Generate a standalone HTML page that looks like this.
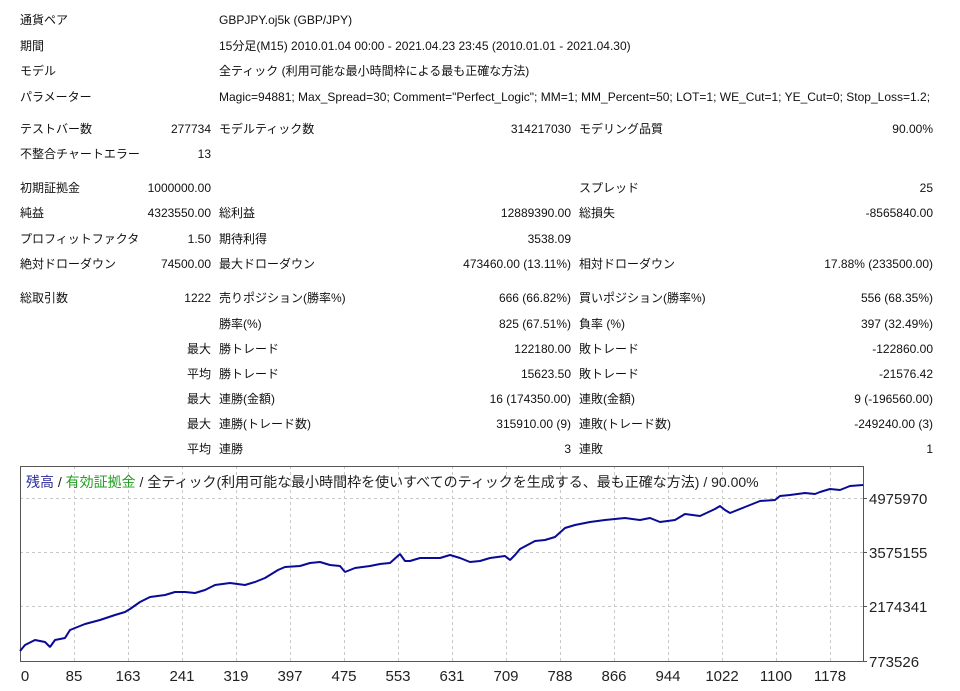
<!DOCTYPE html>
<html><head><meta charset="utf-8"><style>
body{margin:0;width:960px;height:691px;background:#fff;position:relative;overflow:hidden;font-family:"Liberation Sans","Noto Sans CJK JP",sans-serif;font-size:12px;color:#111}
.t{position:absolute;white-space:nowrap;line-height:16px}
</style></head><body>
<div class="t" style="left:20px;top:12px">通貨ペア</div><div class="t" style="left:219px;top:12px">GBPJPY.oj5k (GBP/JPY)</div>
<div class="t" style="left:20px;top:38px">期間</div><div class="t" style="left:219px;top:38px">15分足(M15) 2010.01.04 00:00 - 2021.04.23 23:45 (2010.01.01 - 2021.04.30)</div>
<div class="t" style="left:20px;top:63px">モデル</div><div class="t" style="left:219px;top:63px">全ティック (利用可能な最小時間枠による最も正確な方法)</div>
<div class="t" style="left:20px;top:89px">パラメーター</div><div class="t" style="left:219px;top:89px">Magic=94881; Max_Spread=30; Comment="Perfect_Logic"; MM=1; MM_Percent=50; LOT=1; WE_Cut=1; YE_Cut=0; Stop_Loss=1.2;</div>

<div class="t" style="left:20px;top:121px">テストバー数</div><div class="t" style="right:749px;top:121px">277734</div><div class="t" style="left:219px;top:121px">モデルティック数</div><div class="t" style="right:389px;top:121px">314217030</div><div class="t" style="left:579px;top:121px">モデリング品質</div><div class="t" style="right:27px;top:121px">90.00%</div>
<div class="t" style="left:20px;top:146px">不整合チャートエラー</div><div class="t" style="right:749px;top:146px">13</div>

<div class="t" style="left:20px;top:180px">初期証拠金</div><div class="t" style="right:749px;top:180px">1000000.00</div><div class="t" style="left:579px;top:180px">スプレッド</div><div class="t" style="right:27px;top:180px">25</div>
<div class="t" style="left:20px;top:205px">純益</div><div class="t" style="right:749px;top:205px">4323550.00</div><div class="t" style="left:219px;top:205px">総利益</div><div class="t" style="right:389px;top:205px">12889390.00</div><div class="t" style="left:579px;top:205px">総損失</div><div class="t" style="right:27px;top:205px">-8565840.00</div>
<div class="t" style="left:20px;top:231px">プロフィットファクタ</div><div class="t" style="right:749px;top:231px">1.50</div><div class="t" style="left:219px;top:231px">期待利得</div><div class="t" style="right:389px;top:231px">3538.09</div>
<div class="t" style="left:20px;top:256px">絶対ドローダウン</div><div class="t" style="right:749px;top:256px">74500.00</div><div class="t" style="left:219px;top:256px">最大ドローダウン</div><div class="t" style="right:389px;top:256px">473460.00 (13.11%)</div><div class="t" style="left:579px;top:256px">相対ドローダウン</div><div class="t" style="right:27px;top:256px">17.88% (233500.00)</div>

<div class="t" style="left:20px;top:290px">総取引数</div><div class="t" style="right:749px;top:290px">1222</div><div class="t" style="left:219px;top:290px">売りポジション(勝率%)</div><div class="t" style="right:389px;top:290px">666 (66.82%)</div><div class="t" style="left:579px;top:290px">買いポジション(勝率%)</div><div class="t" style="right:27px;top:290px">556 (68.35%)</div>
<div class="t" style="left:219px;top:316px">勝率(%)</div><div class="t" style="right:389px;top:316px">825 (67.51%)</div><div class="t" style="left:579px;top:316px">負率 (%)</div><div class="t" style="right:27px;top:316px">397 (32.49%)</div>
<div class="t" style="right:749px;top:341px">最大</div><div class="t" style="left:219px;top:341px">勝トレード</div><div class="t" style="right:389px;top:341px">122180.00</div><div class="t" style="left:579px;top:341px">敗トレード</div><div class="t" style="right:27px;top:341px">-122860.00</div>
<div class="t" style="right:749px;top:366px">平均</div><div class="t" style="left:219px;top:366px">勝トレード</div><div class="t" style="right:389px;top:366px">15623.50</div><div class="t" style="left:579px;top:366px">敗トレード</div><div class="t" style="right:27px;top:366px">-21576.42</div>
<div class="t" style="right:749px;top:391px">最大</div><div class="t" style="left:219px;top:391px">連勝(金額)</div><div class="t" style="right:389px;top:391px">16 (174350.00)</div><div class="t" style="left:579px;top:391px">連敗(金額)</div><div class="t" style="right:27px;top:391px">9 (-196560.00)</div>
<div class="t" style="right:749px;top:416px">最大</div><div class="t" style="left:219px;top:416px">連勝(トレード数)</div><div class="t" style="right:389px;top:416px">315910.00 (9)</div><div class="t" style="left:579px;top:416px">連敗(トレード数)</div><div class="t" style="right:27px;top:416px">-249240.00 (3)</div>
<div class="t" style="right:749px;top:441px">平均</div><div class="t" style="left:219px;top:441px">連勝</div><div class="t" style="right:389px;top:441px">3</div><div class="t" style="left:579px;top:441px">連敗</div><div class="t" style="right:27px;top:441px">1</div>

<svg style="position:absolute;left:0;top:0" width="960" height="691" font-family="Liberation Sans, Noto Sans CJK JP, sans-serif">
<g stroke="#c8c8c8" stroke-dasharray="3,3" stroke-width="1">
<line x1="20" y1="498.5" x2="863" y2="498.5"/><line x1="20" y1="552.5" x2="863" y2="552.5"/><line x1="20" y1="606.5" x2="863" y2="606.5"/>
<line x1="74.5" y1="466" x2="74.5" y2="661"/><line x1="128.5" y1="466" x2="128.5" y2="661"/><line x1="182.5" y1="466" x2="182.5" y2="661"/><line x1="236.5" y1="466" x2="236.5" y2="661"/><line x1="290.5" y1="466" x2="290.5" y2="661"/><line x1="344.5" y1="466" x2="344.5" y2="661"/><line x1="398.5" y1="466" x2="398.5" y2="661"/><line x1="452.5" y1="466" x2="452.5" y2="661"/><line x1="506.5" y1="466" x2="506.5" y2="661"/><line x1="560.5" y1="466" x2="560.5" y2="661"/><line x1="614.5" y1="466" x2="614.5" y2="661"/><line x1="668.5" y1="466" x2="668.5" y2="661"/><line x1="722.5" y1="466" x2="722.5" y2="661"/><line x1="776.5" y1="466" x2="776.5" y2="661"/><line x1="830.5" y1="466" x2="830.5" y2="661"/>
</g>
<rect x="20.5" y="466.5" width="843" height="195" fill="none" stroke="#555" stroke-width="1"/>
<g stroke="#555"><line x1="863" y1="498.5" x2="867" y2="498.5"/><line x1="863" y1="552.5" x2="867" y2="552.5"/><line x1="863" y1="606.5" x2="867" y2="606.5"/><line x1="863" y1="661.5" x2="867" y2="661.5"/></g>
<polyline fill="none" stroke="#0a0a96" stroke-width="2" stroke-linejoin="bevel" points="20,651 25,645 35,640 45,642 50,647 55,640 65,638 70,630 85,624 100,620 115,615 125,612 130,609 140,602 150,597 165,595 175,592 185,592 195,593 205,590 215,585 230,583 245,585 255,582 265,578 278,570 285,567 300,566 310,563 320,562 330,565 340,566 345,572 355,568 370,566 380,564 390,563 400,554 405,561 410,561 420,558 430,558 440,558 450,555 460,558 470,562 480,561 490,558 505,556 510,560 515,555 520,549 535,541 545,540 555,537 565,528 575,525 590,522 605,520 615,519 625,518 640,520 650,518 660,522 675,520 685,514 700,516 715,509 720,506 725,510 730,513 745,507 760,501 775,500 780,496 790,495 805,493 815,494 820,492 830,489 840,490 850,486 863,485"/>
<text x="26" y="487" font-size="14"><tspan fill="#2a2a9a">残高</tspan><tspan fill="#222"> / </tspan><tspan fill="#22a022">有効証拠金</tspan><tspan fill="#222"> / 全ティック(利用可能な最小時間枠を使いすべてのティックを生成する、最も正確な方法) / 90.00%</tspan></text>
<g font-size="15" fill="#222">
<text x="869" y="504">4975970</text><text x="869" y="558">3575155</text><text x="869" y="612">2174341</text><text x="869" y="667">773526</text>
<g text-anchor="middle"><text x="25" y="681">0</text><text x="74" y="681">85</text><text x="128" y="681">163</text><text x="182" y="681">241</text><text x="236" y="681">319</text><text x="290" y="681">397</text><text x="344" y="681">475</text><text x="398" y="681">553</text><text x="452" y="681">631</text><text x="506" y="681">709</text><text x="560" y="681">788</text><text x="614" y="681">866</text><text x="668" y="681">944</text><text x="722" y="681">1022</text><text x="776" y="681">1100</text><text x="830" y="681">1178</text></g>
</g>
</svg>
</body></html>
